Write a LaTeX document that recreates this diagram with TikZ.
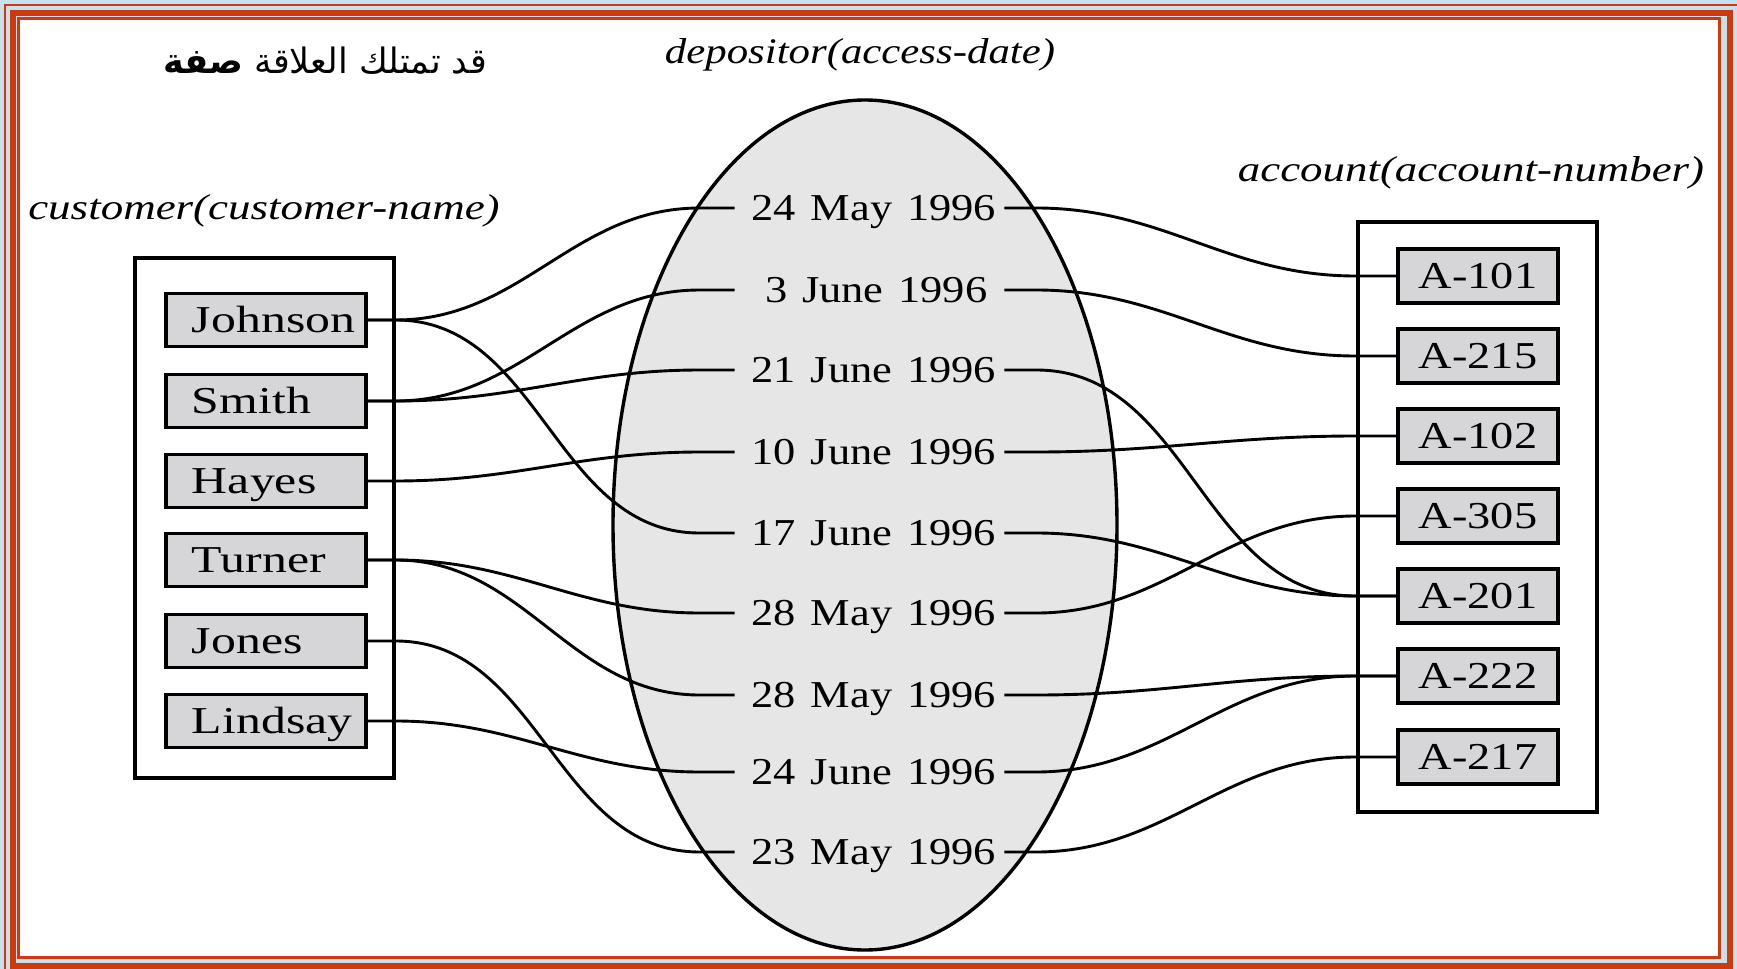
\documentclass[tikz,border=0pt]{standalone}
\usepackage{fontspec}
\usepackage{graphicx}
\usetikzlibrary{shapes.geometric,calc}
\TeXXeTstate=1
\setmainfont{Liberation Serif}
\newfontfamily\arabicfont[Script=Arabic]{DejaVu Sans}
\newcommand\bookfont{\fontsize{19}{23}\selectfont}
\newcommand\headfont{\fontsize{18}{22}\selectfont\itshape}
% horizontally widened text
\newcommand\hs[2][1.22]{\scalebox{#1}[1]{#2}}
\definecolor{frame}{HTML}{CF3A0C}
\definecolor{sky}{HTML}{C6E0F0}
\definecolor{boxgray}{HTML}{D6D6D8}
\definecolor{ovalgray}{HTML}{E6E6E6}
\tikzset{
  link/.style={line width=1.45pt, black},
  holder/.style={draw, line width=1.6pt, fill=white, inner sep=0pt},
  cust/.style={draw, line width=1.7pt, fill=boxgray, minimum height=26.5pt,
    text width=100pt, inner xsep=0pt, inner ysep=0pt, align=left,
    text height=12.6pt, text depth=0pt, font=\bookfont},
  acct/.style={draw, line width=1.7pt, fill=boxgray, minimum width=80pt,
    minimum height=27pt, inner sep=0pt, align=center,
    text height=12.6pt, text depth=0pt, font=\bookfont},
  date/.style={text width=117.9pt, inner xsep=8.3pt, inner ysep=0pt,
    align=right, text height=12.6pt, text depth=0pt, font=\bookfont},
  heading/.style={font=\headfont, inner sep=0pt}
}
\newcommand\who[1]{\hspace*{13pt}\hs[1.31]{#1}}
\newcommand\when[1]{\hs[1.17]{#1}}
\begin{document}
\begin{tikzpicture}[x=0.5pt,y=-0.5pt]
\useasboundingbox (0,0) rectangle (1737,969);
% slide frame
\fill[sky] (0,0) rectangle (1737,969);
\fill[white] (20,20) rectangle (1718,956);
\draw[frame, line width=1pt] (5,5) rectangle (1750,980);
\draw[frame, line width=3pt] (12.5,12.5) rectangle (1730,966);
\draw[frame, line width=1.2pt] (18.5,18.5) rectangle (1719.5,957.5);

% headings
\node (title) at (325,61) {\arabicfont\fontsize{17.5}{21}\selectfont\beginR قد تمتلك العلاقة {\bfseries صفة}\endR};
\node[heading] (dephead) at (860,55) {\hs[1.19]{depositor(access-date)}};
\node[heading] (acchead) at (1471,173) {\hs[1.247]{account(account-number)}};
\node[heading] (custhead) at (264,211) {\hs[1.25]{customer(customer-name)}};

% relationship set
\node[draw, ellipse, line width=1.7pt, fill=ovalgray, minimum width=252pt,
  minimum height=425pt, inner sep=0pt] (oval) at (865,525) {};

% entity sets
\node[holder, minimum width=129.5pt, minimum height=260pt] (custset) at (264.5,518) {};
\node[holder, minimum width=119.5pt, minimum height=295pt] (accset) at (1477.5,517) {};

\node[cust] (johnson) at (266,320) {\who{Johnson}};
\node[cust] (smith)   at (266,401) {\who{Smith}};
\node[cust] (hayes)   at (266,481) {\who{Hayes}};
\node[cust] (turner)  at (266,560) {\who{Turner}};
\node[cust] (jones)   at (266,641) {\who{Jones}};
\node[cust] (lindsay) at (266,721) {\who{Lindsay}};

\node[acct] (a101) at (1478,276) {\hs{A-101}};
\node[acct] (a215) at (1478,356) {\hs{A-215}};
\node[acct] (a102) at (1478,436) {\hs{A-102}};
\node[acct] (a305) at (1478,516) {\hs{A-305}};
\node[acct] (a201) at (1478,596) {\hs{A-201}};
\node[acct] (a222) at (1478,676) {\hs{A-222}};
\node[acct] (a217) at (1478,757) {\hs{A-217}};

\node[date] (d1) at (869.5,208) {\when{24 May 1996}};
\node[date] (d2) at (869.5,290) {\when{3 June 1996}};
\node[date] (d3) at (869.5,370) {\when{21 June 1996}};
\node[date] (d4) at (869.5,452) {\when{10 June 1996}};
\node[date] (d5) at (869.5,533) {\when{17 June 1996}};
\node[date] (d6) at (869.5,613) {\when{28 May 1996}};
\node[date] (d7) at (869.5,695) {\when{28 May 1996}};
\node[date] (d8) at (869.5,772) {\when{24 June 1996}};
\node[date] (d9) at (869.5,852) {\when{23 May 1996}};

% customer -> depositor
\foreach \c/\d in {johnson/d1, johnson/d5, smith/d2, smith/d3, hayes/d4,
                   turner/d6, turner/d7, jones/d9, lindsay/d8}{
  \draw[link] (\c.east) -- ++(28,0) to[out=0,in=180]
    ($(\d.west)+(-35,0)$) -- (\d.west);
}
% depositor -> account
\foreach \d/\a in {d1/a101, d2/a215, d3/a201, d4/a102, d5/a201,
                   d6/a305, d7/a222, d8/a222, d9/a217}{
  \draw[link] (\d.east) -- ++(32,0) to[out=0,in=180]
    ($(\a.west)+(-41,0)$) -- (\a.west);
}
\end{tikzpicture}
\end{document}
